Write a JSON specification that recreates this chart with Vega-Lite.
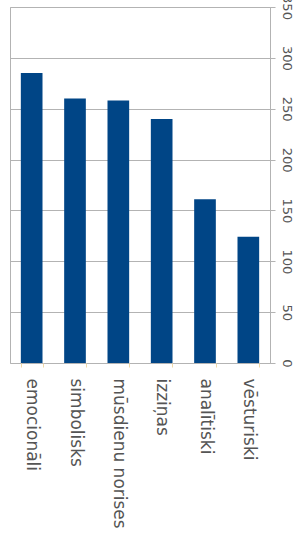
{
  "$schema": "https://vega.github.io/schema/vega-lite/v6.json",
  "width": 260,
  "height": 356,
  "autosize": {"type": "none"},
  "padding": {"left": 10, "top": 7, "right": 27, "bottom": 174},
  "background": "white",
  "config": {
    "view": {"stroke": "#b3b3b3", "strokeWidth": 1},
    "font": "DejaVu Sans"
  },
  "data": {
    "values": [
      {"kategorija": "emocionāli", "vertiba": 285},
      {"kategorija": "simbolisks", "vertiba": 260},
      {"kategorija": "mūsdienu norises", "vertiba": 258},
      {"kategorija": "izziņas", "vertiba": 240},
      {"kategorija": "analītiski", "vertiba": 161},
      {"kategorija": "vēsturiski", "vertiba": 124}
    ]
  },
  "mark": {"type": "bar", "color": "#004586"},
  "encoding": {
    "x": {
      "field": "kategorija",
      "type": "nominal",
      "sort": null,
      "scale": {"paddingInner": 0.5, "paddingOuter": 0.25},
      "axis": {
        "title": null,
        "labelAngle": 90,
        "labelAlign": "left",
        "labelBaseline": "middle",
        "labelFontSize": 17,
        "labelColor": "#555555",
        "labelPadding": 11,
        "labelOverlap": false,
        "labelLimit": 300,
        "domain": false,
        "ticks": true,
        "tickColor": "#f0d9a8",
        "tickSize": 4,
        "tickBand": "extent"
      }
    },
    "y": {
      "field": "vertiba",
      "type": "quantitative",
      "scale": {"domain": [0, 350], "nice": false},
      "axis": {
        "orient": "right",
        "title": null,
        "values": [0, 50, 100, 150, 200, 250, 300, 350],
        "labelAngle": 90,
        "labelAlign": "center",
        "labelBaseline": "bottom",
        "labelFontSize": 13,
        "labelColor": "#555555",
        "labelPadding": 4,
        "labelOverlap": false,
        "domain": true,
        "domainColor": "#b3b3b3",
        "tickColor": "#b3b3b3",
        "tickSize": 5,
        "grid": true,
        "gridColor": "#b3b3b3",
        "gridWidth": 1
      }
    }
  }
}
